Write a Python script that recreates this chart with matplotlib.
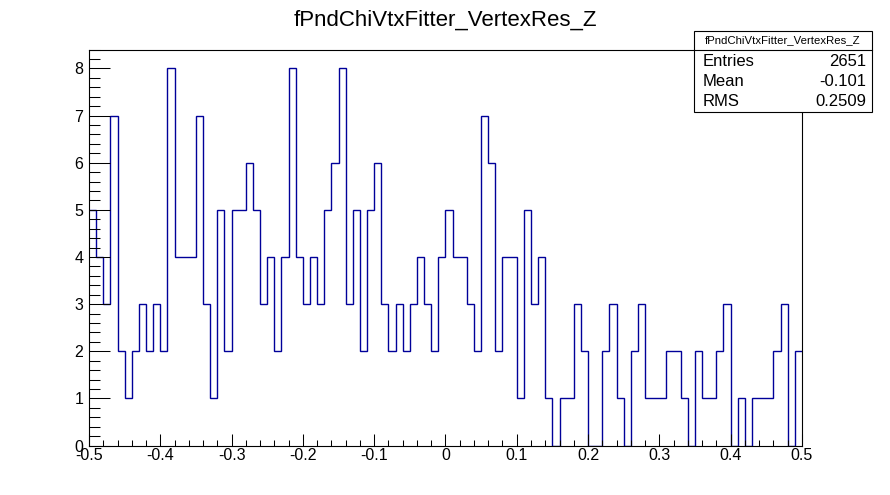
import matplotlib
matplotlib.use("Agg")
import matplotlib.pyplot as plt
import numpy as np
from matplotlib.patches import Rectangle
from matplotlib.lines import Line2D
from matplotlib.ticker import MultipleLocator

plt.rcParams["font.family"] = ["Liberation Sans", "DejaVu Sans"]

hist_name = "fPndChiVtxFitter_VertexRes_Z"
x_low, x_high, n_bins = -0.5, 0.5, 100
counts = [
    5, 4, 3, 7, 2, 1, 2, 3, 2, 3,
    2, 8, 4, 4, 4, 7, 3, 1, 5, 2,
    5, 5, 6, 5, 3, 4, 2, 4, 8, 4,
    3, 4, 3, 5, 6, 8, 3, 5, 2, 5,
    6, 3, 2, 3, 2, 3, 4, 3, 2, 4,
    5, 4, 4, 3, 2, 7, 6, 2, 4, 4,
    1, 5, 3, 4, 1, 0, 1, 1, 3, 2,
    0, 0, 2, 3, 1, 0, 2, 3, 1, 1,
    1, 2, 2, 1, 0, 2, 1, 1, 2, 3,
    0, 1, 0, 1, 1, 1, 2, 3, 0, 2,
]
x_ticks = [-0.5, -0.4, -0.3, -0.2, -0.1, 0.0, 0.1, 0.2, 0.3, 0.4, 0.5]
x_tick_labels = ["-0.5", "-0.4", "-0.3", "-0.2", "-0.1", "0", "0.1", "0.2", "0.3", "0.4", "0.5"]
y_ticks = [0, 1, 2, 3, 4, 5, 6, 7, 8]
stat_names = ["Entries", "Mean", "RMS"]
stat_values = ["2651", "-0.101", "0.2509"]

edges = np.linspace(x_low, x_high, n_bins + 1)
line_color = "#000099"

fig = plt.figure(figsize=(8.9, 4.95), dpi=100)
ax = fig.add_axes([0.1, 0.1, 0.801, 0.8])

ax.stairs(counts, edges, baseline=None, color=line_color, linewidth=1.0)

ax.set_xlim(x_low, x_high)
ax.set_ylim(0, max(counts) * 1.05)

ax.set_xticks(x_ticks)
ax.set_xticklabels(x_tick_labels)
ax.set_yticks(y_ticks)
ax.xaxis.set_minor_locator(MultipleLocator(0.02))
ax.yaxis.set_minor_locator(MultipleLocator(0.2))
ax.tick_params(axis="x", which="major", direction="in", length=8.6, width=0.75,
               labelsize=11.5, pad=2)
ax.tick_params(axis="x", which="minor", direction="in", length=4.3, width=0.75)
ax.tick_params(axis="y", which="major", direction="in", length=15, width=0.75,
               labelsize=11.5, pad=4)
ax.tick_params(axis="y", which="minor", direction="in", length=7.6, width=0.75)
for side in ax.spines.values():
    side.set_linewidth(0.8)

fig.text(0.5, 1 - 20 / 495, hist_name, ha="center", va="center", fontsize=16)

# stats box, ROOT style, partly outside the frame
bx0, bx1 = 694 / 890, 872 / 890
by1, by0 = 1 - 31 / 495, 1 - 112 / 495
sep = 1 - 50 / 495
fig.patches.append(Rectangle((bx0, by0), bx1 - bx0, by1 - by0, transform=fig.transFigure,
                             facecolor="white", edgecolor="black", linewidth=0.8, zorder=5))
fig.lines.append(Line2D([bx0, bx1], [sep, sep], transform=fig.transFigure,
                        color="black", linewidth=0.8, zorder=6))
fig.text((bx0 + bx1) / 2, (by1 + sep) / 2, hist_name, ha="center", va="center",
         fontsize=8.2, zorder=7)
row_y = [1 - 62 / 495, 1 - 82 / 495, 1 - 101 / 495]
for name, val, yy in zip(stat_names, stat_values, row_y):
    fig.text(703 / 890, yy, name, ha="left", va="center", fontsize=12, zorder=7)
    fig.text(866 / 890, yy, val, ha="right", va="center", fontsize=12, zorder=7)

fig.savefig("out.png", dpi=100)
